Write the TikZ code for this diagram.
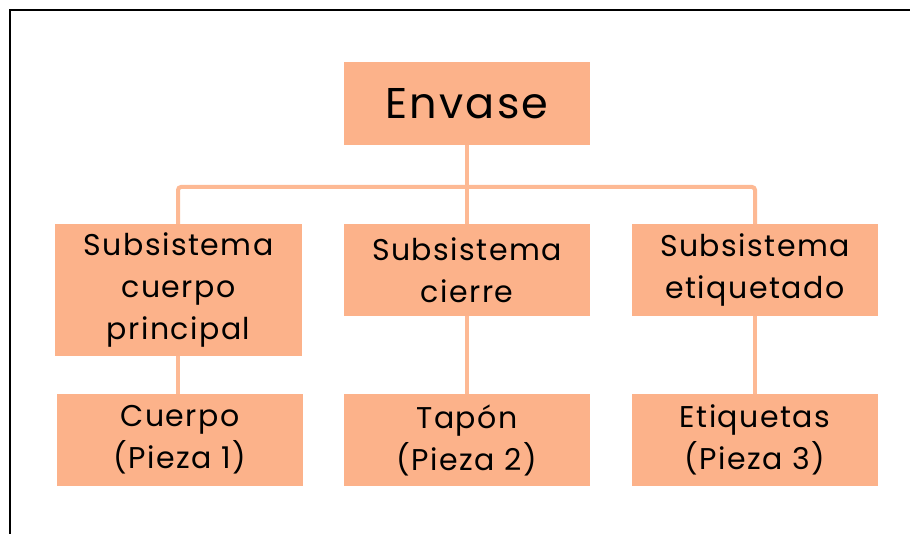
\documentclass[tikz,border=0pt]{standalone}
\usepackage{fontspec}
\setmainfont{Poppins}[LetterSpace=5]
\definecolor{peach}{HTML}{FCB28A}
\definecolor{peachline}{HTML}{FDB994}
\begin{document}
\begin{tikzpicture}[x=1pt,y=-1pt,
  box/.style={fill=peach, draw=none, inner sep=0pt, align=center, anchor=center,
    font=\fontsize{30}{42}\selectfont},
  conn/.style={draw=peachline, line width=4pt, rounded corners=3pt}]
\useasboundingbox (0,0) rectangle (910,534);
\fill[white] (0,0) rectangle (910,534);
\draw[line width=2.2pt, black] (10,534) -- (10,10) -- (912,10);
\node[box, minimum width=246pt, minimum height=83pt, font=\fontsize{43}{50}\selectfont] (env) at (467,103.5) {Envase};
\node[box, minimum width=247pt, minimum height=132pt] (s1) at (178.5,290) {Subsistema\\cuerpo\\principal};
\node[box, minimum width=246pt, minimum height=92pt] (s2) at (467,270) {Subsistema\\cierre};
\node[box, minimum width=246pt, minimum height=92pt] (s3) at (755,270) {Subsistema\\etiquetado};
\node[box, minimum width=246pt, minimum height=92pt] (p1) at (180,440) {Cuerpo\\(Pieza 1)};
\node[box, minimum width=246pt, minimum height=92pt] (p2) at (467,440) {Tapón\\(Pieza 2)};
\node[box, minimum width=246pt, minimum height=92pt] (p3) at (755,440) {Etiquetas\\(Pieza 3)};
\coordinate (bus) at (467,187);
\draw[conn] (env.south) -- (bus);
\draw[conn] (s1.north -| 178,0) |- (bus) -| (s3.north);
\draw[conn] (bus) -- (s2.north);
\draw[conn] (s1.south -| 178,0) -- (p1.north -| 178,0);
\draw[conn] (s2.south) -- (p2.north);
\draw[conn] (s3.south) -- (p3.north);
\end{tikzpicture}
\end{document}
